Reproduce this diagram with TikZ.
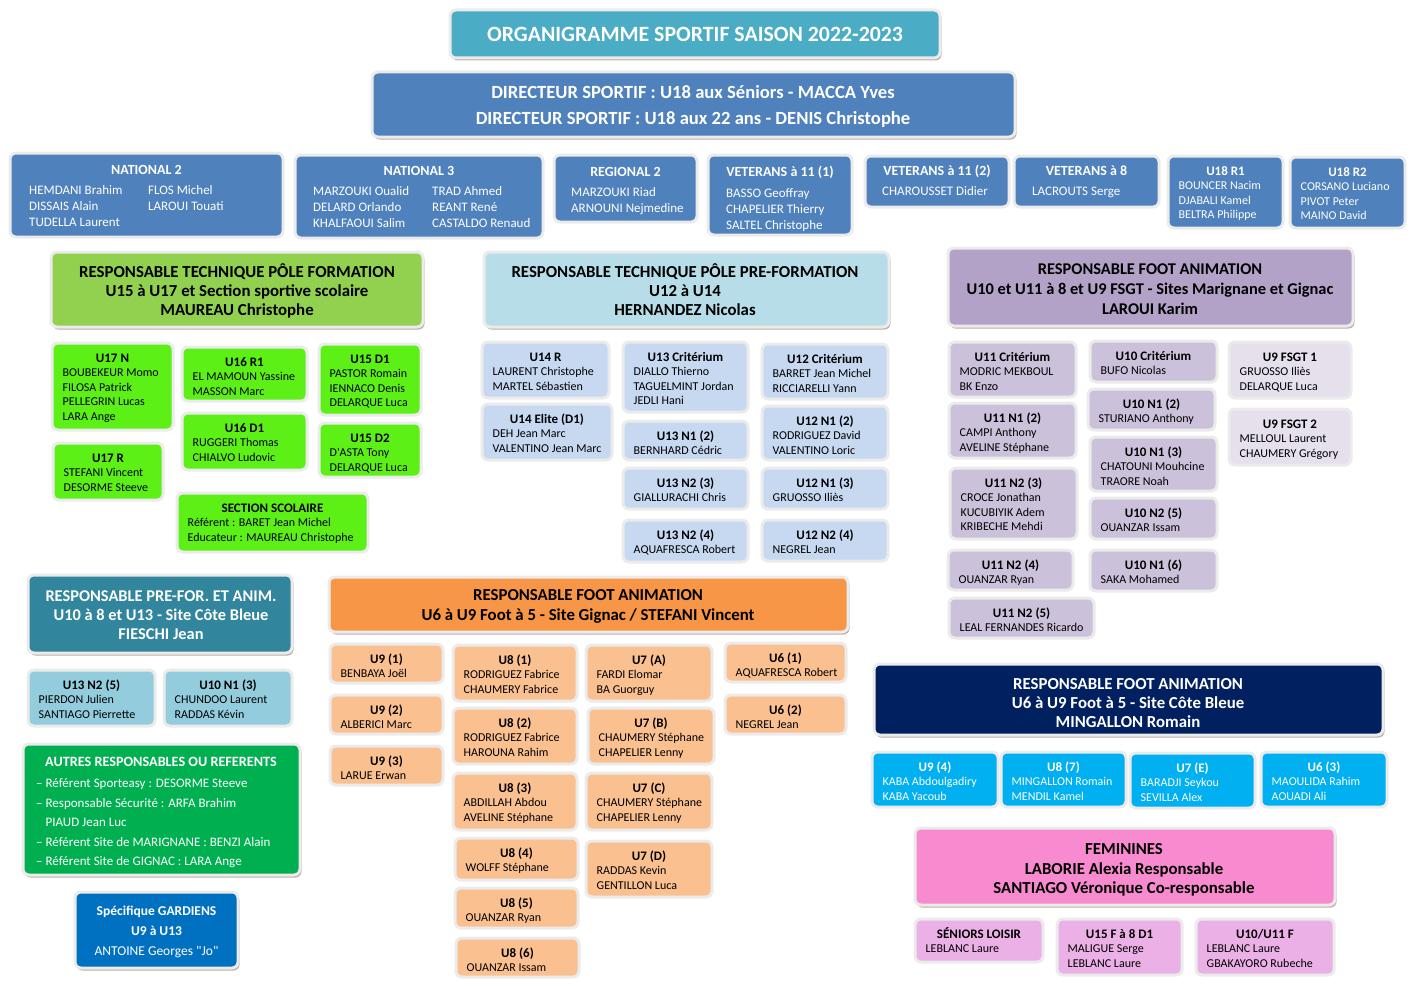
\documentclass[tikz,border=0pt]{standalone}
\usepackage{fontspec}
\setmainfont{Carlito}[Ligatures=TeXOff]
\usetikzlibrary{fit,shadows}

\definecolor{titlecol}{HTML}{4BACC6}
\definecolor{dircol}{HTML}{4F81BD}
\definecolor{formcol}{HTML}{92D050}
\definecolor{formsub}{HTML}{5CF016}
\definecolor{prefcol}{HTML}{B7DEE8}
\definecolor{prefsub}{HTML}{C6D9F1}
\definecolor{animcol}{HTML}{B2A2C7}
\definecolor{animsub}{HTML}{CCC1DA}
\definecolor{fsgtsub}{HTML}{E5E0EC}
\definecolor{pfacol}{HTML}{31859C}
\definecolor{pfasub}{HTML}{93CDDD}
\definecolor{autrescol}{HTML}{00B050}
\definecolor{gardcol}{HTML}{0070C0}
\definecolor{gigcol}{HTML}{F79646}
\definecolor{gigsub}{HTML}{FAC090}
\definecolor{cbcol}{HTML}{002060}
\definecolor{cbsub}{HTML}{00B0F0}
\definecolor{femcol}{HTML}{F88BCF}
\definecolor{femsub}{HTML}{EBB1E6}
\definecolor{shadowcol}{HTML}{A08A80}

% first line of a list sits on the node's base
\newcommand{\namelist}[1]{\begin{tabular}[t]{@{}l@{}}#1\end{tabular}}
\newcommand{\centerlist}[1]{\begin{tabular}[t]{@{}c@{}}#1\end{tabular}}

\tikzset{
  box/.style={draw=black!8, line width=3pt, rounded corners=6pt, inner sep=0pt},
  head/.style={box, drop shadow={shadow xshift=1.5pt, shadow yshift=-2.5pt, fill=shadowcol, opacity=.7}},
  headtxt/.style={font=\bfseries\fontsize{16.8}{19}\selectfont, anchor=base, inner sep=0pt},
  teamtitle/.style={font=\bfseries\fontsize{13}{14.6}\selectfont, anchor=base, inner sep=0pt},
  teamnames/.style={font=\fontsize{12}{14.6}\selectfont, anchor=base west, inner sep=0pt},
  leveltitle/.style={font=\bfseries\fontsize{14}{16}\selectfont, anchor=base, text=white, inner sep=0pt},
  levelnames/.style={font=\fontsize{13}{16}\selectfont, anchor=base west, text=white, inner sep=0pt}
}

% box name, colour, x1, y1, x2, y2, title, names
\newcommand{\teambox}[8]{%
  \node[box, fill=#2, fit={(#3,#4) (#5,#6)}] (#1) {};
  \node[teamtitle] (#1-t) at ({(#3+#5)/2},#4+19.5) {#7};
  \node[teamnames] (#1-n) at (#3+10.5,#4+33.5) {\namelist{#8}};
}

\begin{document}
\begin{tikzpicture}[x=1pt,y=-1pt]
\useasboundingbox (0,0) rectangle (1414,990);

% title and directors
\node[head, fill=titlecol, fit={(450,10) (940,58)}] (title) {};
\node[font=\bfseries\fontsize{21.8}{24}\selectfont, text=white] (title-t) at (title.center) {ORGANIGRAMME SPORTIF SAISON 2022-2023};
\node[head, fill=dircol, fit={(372,72) (1015,137)}] (dir) {};
\node[headtxt, text=white, font=\bfseries\fontsize{18.6}{26}\selectfont] (dir-t) at (693,99) {\centerlist{DIRECTEUR SPORTIF : U18 aux Séniors - MACCA Yves\\DIRECTEUR SPORTIF : U18 aux 22 ans - DENIS Christophe}};

% seniors
\node[box, fill=dircol, fit={(10,153) (283,237)}] (nat2) {};
\node[leveltitle] (nat2-t) at (146.5,174) {NATIONAL 2};
\node[levelnames] (nat2-a) at (29,194.5) {\namelist{HEMDANI Brahim\\DISSAIS Alain\\TUDELLA Laurent}};
\node[levelnames] (nat2-b) at (148,194.5) {\namelist{FLOS Michel\\LAROUI Touati}};

\node[box, fill=dircol, fit={(295,155) (543,238)}] (nat3) {};
\node[leveltitle] (nat3-t) at (419,175) {NATIONAL 3};
\node[levelnames] (nat3-a) at (313,195.5) {\namelist{MARZOUKI Oualid\\DELARD Orlando\\KHALFAOUI Salim}};
\node[levelnames] (nat3-b) at (432,195.5) {\namelist{TRAD Ahmed\\REANT René\\CASTALDO Renaud}};

\node[box, fill=dircol, fit={(554,155) (697,222)}] (reg2) {};
\node[leveltitle] (reg2-t) at (625.5,176) {REGIONAL 2};
\node[levelnames] (reg2-a) at (571,196.5) {\namelist{MARZOUKI Riad\\ARNOUNI Nejmedine}};

\node[box, fill=dircol, fit={(708,155) (852,235)}] (vet1) {};
\node[leveltitle] (vet1-t) at (780,176) {VETERANS à 11 (1)};
\node[levelnames] (vet1-a) at (726,197) {\namelist{BASSO Geoffray\\CHAPELIER Thierry\\SALTEL Christophe}};

\node[box, fill=dircol, fit={(865,156) (1009,207)}] (vet2) {};
\node[leveltitle] (vet2-t) at (937,175.5) {VETERANS à 11 (2)};
\node[levelnames] (vet2-a) at (882,195.5) {CHAROUSSET Didier};

\node[box, fill=dircol, fit={(1014,156) (1159,207)}] (vet8) {};
\node[leveltitle] (vet8-t) at (1086.5,175) {VETERANS à 8};
\node[levelnames] (vet8-a) at (1032,195) {LACROUTS Serge};

\begin{scope}[every node/.append style={text=white}]
\teambox{u18a}{dircol}{1168}{156}{1283}{228}{U18 R1}{BOUNCER Nacim\\DJABALI Kamel\\BELTRA Philippe}
\teambox{u18b}{dircol}{1290}{157}{1405}{228}{U18 R2}{CORSANO Luciano\\PIVOT Peter\\MAINO David}
\end{scope}

% pole formation
\node[head, fill=formcol, fit={(51,252) (423,327)}] (form) {};
\node[headtxt] (form-t) at (237,277) {\centerlist{RESPONSABLE TECHNIQUE PÔLE FORMATION\\U15 à U17 et Section sportive scolaire\\MAUREAU Christophe}};
\teambox{u17n}{formsub}{52}{343}{173}{430}{U17 N}{BOUBEKEUR Momo\\FILOSA Patrick\\PELLEGRIN Lucas\\LARA Ange}
\teambox{u16r}{formsub}{182}{347}{307}{401}{U16 R1}{EL MAMOUN Yassine\\MASSON Marc}
\teambox{u15a}{formsub}{319}{344}{421}{415}{U15 D1}{PASTOR Romain\\IENNACO Denis\\DELARQUE Luca}
\teambox{u17r}{formsub}{53}{443}{163}{500}{U17 R}{STEFANI Vincent\\DESORME Steeve}
\teambox{u16d}{formsub}{182}{413}{307}{470}{U16 D1}{RUGGERI Thomas\\CHIALVO Ludovic}
\teambox{u15b}{formsub}{319}{423}{421}{477}{U15 D2}{D'ASTA Tony\\DELARQUE Luca}
\teambox{sco}{formsub}{177}{493}{368}{552}{SECTION SCOLAIRE}{Référent : BARET Jean Michel\\Educateur : MAUREAU Christophe}

% pole pre-formation
\node[head, fill=prefcol, fit={(484,252) (889,327)}] (pref) {};
\node[headtxt] (pref-t) at (685,277) {\centerlist{RESPONSABLE TECHNIQUE PÔLE PRE-FORMATION\\U12 à U14\\HERNANDEZ Nicolas}};
\teambox{u14r}{prefsub}{482}{342}{609}{398}{U14 R}{LAURENT Christophe\\MARTEL Sébastien}
\teambox{u14e}{prefsub}{482}{404}{612}{460}{U14 Elite (D1)}{DEH Jean Marc\\VALENTINO Jean Marc}
\teambox{u13c}{prefsub}{623}{342}{748}{412}{U13 Critérium}{DIALLO Thierno\\TAGUELMINT Jordan\\JEDLI Hani}
\teambox{u13a}{prefsub}{623}{421}{748}{460}{U13 N1 (2)}{BERNHARD Cédric}
\teambox{u13b}{prefsub}{623}{468}{748}{509}{U13 N2 (3)}{GIALLURACHI Chris}
\teambox{u13d}{prefsub}{623}{520}{748}{562}{U13 N2 (4)}{AQUAFRESCA Robert}
\teambox{u12c}{prefsub}{762}{344}{888}{399}{U12 Critérium}{BARRET Jean Michel\\RICCIARELLI Yann}
\teambox{u12a}{prefsub}{762}{406}{888}{460}{U12 N1 (2)}{RODRIGUEZ David\\VALENTINO Loric}
\teambox{u12b}{prefsub}{762}{468}{888}{509}{U12 N1 (3)}{GRUOSSO Iliès}
\teambox{u12d}{prefsub}{762}{520}{888}{561}{U12 N2 (4)}{NEGREL Jean}

% foot animation marignane / gignac
\node[head, fill=animcol, fit={(948,248) (1353,326)}] (anim) {};
\node[headtxt, font=\bfseries\fontsize{16.4}{20}\selectfont] (anim-t) at (1150,274) {\centerlist{RESPONSABLE FOOT ANIMATION\\U10 et U11 à 8 et U9 FSGT - Sites Marignane et Gignac\\LAROUI Karim}};
\teambox{u11c}{animsub}{949}{342}{1076}{397}{U11 Critérium}{MODRIC MEKBOUL\\BK Enzo}
\teambox{u11a}{animsub}{949}{403}{1076}{458}{U11 N1 (2)}{CAMPI Anthony\\AVELINE Stéphane}
\teambox{u11b}{animsub}{950}{468}{1077}{539}{U11 N2 (3)}{CROCE Jonathan\\KUCUBIYIK Adem\\KRIBECHE Mehdi}
\teambox{u11d}{animsub}{948}{550}{1073}{590}{U11 N2 (4)}{OUANZAR Ryan}
\teambox{u11e}{animsub}{949}{598}{1094}{638}{U11 N2 (5)}{LEAL FERNANDES Ricardo}
\teambox{u10c}{animsub}{1090}{341}{1217}{382}{U10 Critérium}{BUFO Nicolas}
\teambox{u10a}{animsub}{1088}{389}{1215}{430}{U10 N1 (2)}{STURIANO Anthony}
\teambox{u10b}{animsub}{1090}{437}{1217}{491}{U10 N1 (3)}{CHATOUNI Mouhcine\\TRAORE Noah}
\teambox{u10d}{animsub}{1090}{498}{1217}{539}{U10 N2 (5)}{OUANZAR Issam}
\teambox{u10e}{animsub}{1090}{550}{1217}{591}{U10 N1 (6)}{SAKA Mohamed}
\teambox{u9f}{fsgtsub}{1229}{342}{1351}{398}{U9 FSGT 1}{GRUOSSO Iliès\\DELARQUE Luca}
\teambox{u9g}{fsgtsub}{1229}{409}{1351}{465}{U9 FSGT 2}{MELLOUL Laurent\\CHAUMERY Grégory}

% pre-for. et anim. cote bleue
\node[head, fill=pfacol, fit={(28,575) (292,653)}] (pfa) {};
\node[headtxt, text=white, font=\bfseries\fontsize{16.4}{19}\selectfont] (pfa-t) at (161,601.5) {\centerlist{RESPONSABLE PRE-FOR. ET ANIM.\\U10 à 8 et U13 - Site Côte Bleue\\FIESCHI Jean}};
\teambox{u13e}{pfasub}{28}{670}{155}{726}{U13 N2 (5)}{PIERDON Julien\\SANTIAGO Pierrette}
\teambox{u10f}{pfasub}{164}{670}{292}{726}{U10 N1 (3)}{CHUNDOO Laurent\\RADDAS Kévin}

% autres
\node[head, fill=autrescol, fit={(23,744) (300,875)}] (autres) {};
\node[leveltitle, font=\bfseries\fontsize{14.2}{16}\selectfont] (autres-t) at (161,766.5) {AUTRES RESPONSABLES OU REFERENTS};
\node[levelnames, font=\fontsize{13}{19.5}\selectfont] (autres-n) at (36,787.5) {\namelist{– Référent Sporteasy : DESORME Steeve\\– Responsable Sécurité : ARFA Brahim\\\phantom{– }PIAUD Jean Luc\\– Référent Site de MARIGNANE : BENZI Alain\\– Référent Site de GIGNAC : LARA Ange}};

\node[head, fill=gardcol, fit={(75,892) (238,968)}] (gard) {};
\node[headtxt, text=white, font=\fontsize{13.5}{20}\selectfont] (gard-t) at (156.5,915.5) {\centerlist{\textbf{Spécifique GARDIENS}\\\textbf{U9 à U13}\\ANTOINE Georges "Jo"}};

% foot animation gignac
\node[head, fill=gigcol, fit={(329,577) (848,632)}] (gig) {};
\node[headtxt, font=\bfseries\fontsize{16.8}{20}\selectfont] (gig-t) at (588,600.5) {\centerlist{RESPONSABLE FOOT ANIMATION\\U6 à U9 Foot à 5 - Site Gignac / STEFANI Vincent}};
\teambox{u9a}{gigsub}{330}{644}{443}{683}{U9 (1)}{BENBAYA Joël}
\teambox{u9b}{gigsub}{330}{695}{443}{734}{U9 (2)}{ALBERICI Marc}
\teambox{u9c}{gigsub}{330}{746}{443}{785}{U9 (3)}{LARUE Erwan}
\teambox{u8a}{gigsub}{453}{645}{577}{701}{U8 (1)}{RODRIGUEZ Fabrice\\CHAUMERY Fabrice}
\teambox{u8b}{gigsub}{453}{708}{577}{764}{U8 (2)}{RODRIGUEZ Fabrice\\HAROUNA Rahim}
\teambox{u8c}{gigsub}{453}{773}{577}{830}{U8 (3)}{ABDILLAH Abdou\\AVELINE Stéphane}
\teambox{u8d}{gigsub}{455}{838}{578}{880}{U8 (4)}{WOLFF Stéphane}
\teambox{u8e}{gigsub}{455}{888}{578}{928}{U8 (5)}{OUANZAR Ryan}
\teambox{u8f}{gigsub}{456}{938}{579}{977}{U8 (6)}{OUANZAR Issam}
\teambox{u7a}{gigsub}{586}{645}{712}{701}{U7 (A)}{FARDI Elomar\\BA Guorguy}
\teambox{u7b}{gigsub}{588}{708}{714}{764}{U7 (B)}{CHAUMERY Stéphane\\CHAPELIER Lenny}
\teambox{u7c}{gigsub}{586}{773}{712}{830}{U7 (C)}{CHAUMERY Stéphane\\CHAPELIER Lenny}
\teambox{u7d}{gigsub}{586}{841}{712}{897}{U7 (D)}{RADDAS Kevin\\GENTILLON Luca}
\teambox{u6a}{gigsub}{725}{643}{846}{682}{U6 (1)}{AQUAFRESCA Robert}
\teambox{u6b}{gigsub}{725}{695}{846}{734}{U6 (2)}{NEGREL Jean}

% foot animation cote bleue
\node[head, fill=cbcol, fit={(874,664) (1383,735)}] (cb) {};
\node[headtxt, text=white] (cb-t) at (1128,689.5) {\centerlist{RESPONSABLE FOOT ANIMATION\\U6 à U9 Foot à 5 - Site Côte Bleue\\MINGALLON Romain}};
\begin{scope}[every node/.append style={text=white}]
\teambox{u9d}{cbsub}{872}{752}{998}{807}{U9 (4)}{KABA Abdoulgadiry\\KABA Yacoub}
\teambox{u8g}{cbsub}{1001}{752}{1126}{807}{U8 (7)}{MINGALLON Romain\\MENDIL Kamel}
\teambox{u7e}{cbsub}{1130}{753}{1255}{808}{U7 (E)}{BARADJI Seykou\\SEVILLA Alex}
\teambox{u6c}{cbsub}{1261}{752}{1387}{807}{U6 (3)}{MAOULIDA Rahim\\AOUADI Ali}
\end{scope}

% feminines
\node[head, fill=femcol, fit={(915,828) (1335,905)}] (fem) {};
\node[headtxt, font=\bfseries\fontsize{16.8}{19.5}\selectfont] (fem-t) at (1124,854.5) {\centerlist{FEMININES\\LABORIE Alexia Responsable\\SANTIAGO Véronique Co-responsable}};
\teambox{sen}{femsub}{915}{919}{1043}{962}{SÉNIORS LOISIR}{LEBLANC Laure}
\teambox{u15f}{femsub}{1057}{919}{1182}{975}{U15 F à 8 D1}{MALIGUE Serge\\LEBLANC Laure}
\teambox{u10g}{femsub}{1196}{919}{1334}{975}{U10/U11 F}{LEBLANC Laure\\GBAKAYORO Rubeche}
\end{tikzpicture}
\end{document}
